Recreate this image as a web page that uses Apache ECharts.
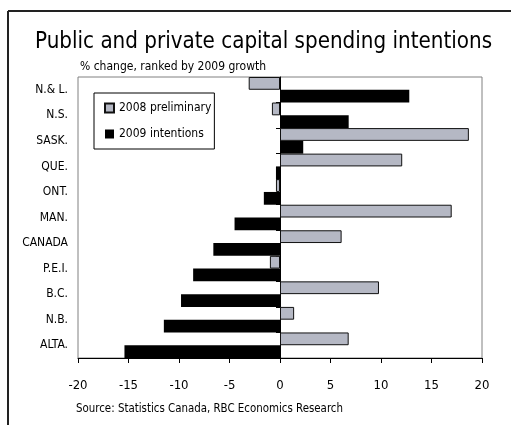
<!DOCTYPE html>
<html>
<head>
<meta charset="utf-8">
<script src="https://cdn.jsdelivr.net/npm/echarts@6/dist/echarts.min.js"></script>
<style>
  html, body { margin: 0; padding: 0; background: #fff; }
  #chart { width: 511px; height: 425px; }
</style>
</head>
<body>
<div id="chart"></div>
<script>
// Provinces ranked by 2009 growth (top to bottom)
const regions = ['N.& L.', 'N.S.', 'SASK.', 'QUE.', 'ONT.', 'MAN.', 'CANADA', 'P.E.I.', 'B.C.', 'N.B.', 'ALTA.'];
// % change in capital spending
const prelim2008 = [-3.1, -0.8, 18.7, 12.1, -0.4, 17.0, 6.1, -1.0, 9.8, 1.4, 6.8];
const intent2009 = [12.8, 6.8, 2.3, -0.4, -1.6, -4.5, -6.6, -8.6, -9.8, -11.5, -15.4];
const seriesNames = ['2008 preliminary', '2009 intentions'];
const xTicks = { min: -20, max: 20, step: 5 };

const FONT = '"DejaVu Sans Condensed", "Liberation Sans", Arial, sans-serif';

const chart = echarts.init(document.getElementById('chart'), null, { renderer: 'canvas' });

chart.setOption({
  backgroundColor: '#fff',
  animation: false,
  textStyle: { fontFamily: FONT, color: '#000' },
  title: [
    {
      text: 'Public and private capital spending intentions',
      left: 30, top: 26,
      textStyle: { fontFamily: FONT, fontSize: 22.2, fontWeight: 'normal', color: '#000' }
    },
    {
      text: '% change, ranked by 2009 growth',
      left: 75, top: 56,
      textStyle: { fontFamily: FONT, fontSize: 12, fontWeight: 'normal', color: '#000' }
    },
    {
      text: 'Source: Statistics Canada, RBC Economics Research',
      left: 71, top: 399,
      textStyle: { fontFamily: FONT, fontSize: 11.4, fontWeight: 'normal', color: '#000' }
    }
  ],
  legend: {
    orient: 'vertical',
    left: 94, top: 93,
    padding: [9, 3, 9, 10],
    itemGap: 14,
    itemWidth: 9, itemHeight: 9,
    icon: 'rect',
    backgroundColor: '#fff',
    borderColor: '#000',
    borderWidth: 1,
    textStyle: { fontFamily: FONT, fontSize: 12, color: '#000' },
    data: seriesNames
  },
  grid: {
    left: 78, right: 29, top: 77, bottom: 67,
    show: true,
    borderColor: '#808080',
    borderWidth: 1,
    backgroundColor: 'transparent'
  },
  xAxis: {
    type: 'value',
    min: xTicks.min, max: xTicks.max, interval: xTicks.step,
    axisLine: { show: true, onZero: false, lineStyle: { color: '#000', width: 1 } },
    axisTick: { show: true, length: 5, lineStyle: { color: '#000' } },
    axisLabel: { fontFamily: FONT, fontSize: 13, color: '#000', margin: 21 },
    splitLine: { show: false }
  },
  yAxis: [
    {
      type: 'category',
      data: regions,
      inverse: true,
      position: 'left',
      axisLine: { show: false, onZero: false },
      axisTick: { show: false },
      axisLabel: { fontFamily: FONT, fontSize: 12, color: '#000', margin: 10 }
    },
    {
      type: 'category',
      data: regions,
      inverse: true,
      position: 'left',
      axisLine: { show: true, onZero: true, lineStyle: { color: '#000', width: 1 } },
      axisTick: { show: true, length: 4, lineStyle: { color: '#000' } },
      axisLabel: { show: false }
    }
  ],
  series: [
    {
      name: seriesNames[0],
      type: 'bar',
      yAxisIndex: 0,
      data: prelim2008,
      barGap: '0%',
      barCategoryGap: '0%',
      itemStyle: { color: '#b5b8c4', borderColor: '#111', borderWidth: 1 }
    },
    {
      name: seriesNames[1],
      type: 'bar',
      yAxisIndex: 0,
      data: intent2009,
      barGap: '0%',
      barCategoryGap: '0%',
      itemStyle: { color: '#000', borderColor: '#000', borderWidth: 0 }
    }
  ],
  graphic: [
    // outer frame: left and top rules
    { type: 'line', shape: { x1: 8, y1: 11, x2: 8, y2: 425 }, style: { stroke: '#222', lineWidth: 2 } },
    { type: 'line', shape: { x1: 8, y1: 11, x2: 511, y2: 11 }, style: { stroke: '#222', lineWidth: 2 } }
  ]
});
</script>
</body>
</html>
